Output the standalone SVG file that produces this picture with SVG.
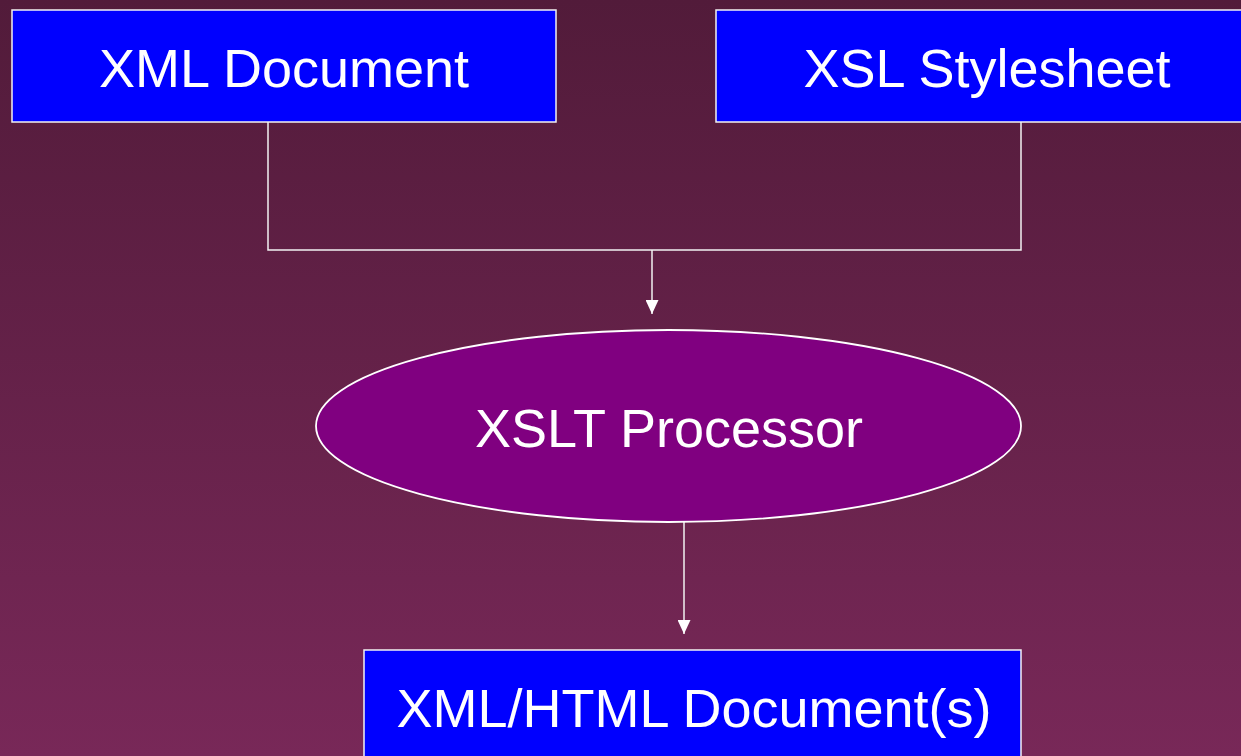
<svg xmlns="http://www.w3.org/2000/svg" width="1241" height="756" viewBox="0 0 1241 756">
  <defs>
    <linearGradient id="bg" x1="0" y1="0" x2="0" y2="1">
      <stop offset="0" stop-color="#521b3a"/>
      <stop offset="1" stop-color="#782858"/>
    </linearGradient>
    <marker id="arrow" viewBox="0 0 14 13" refX="14" refY="6.5" markerWidth="14" markerHeight="13" markerUnits="userSpaceOnUse" orient="auto">
      <path d="M0,0 L14,6.5 L0,13 Z" fill="#ffffff"/>
    </marker>
  </defs>
  <style>
    .box { fill: #0000ff; stroke: #f2f2f2; stroke-width: 1.5; }
    .ell { fill: #800080; stroke: #ffffff; stroke-width: 1.8; }
    .lbl { font-family: "Liberation Sans", Arial, sans-serif; font-size: 54px; fill: #ffffff; text-anchor: middle; }
    .conn { fill: none; stroke: #f2f2f2; stroke-width: 1.5; }
  </style>
  <rect x="0" y="0" width="1241" height="756" fill="url(#bg)"/>
  <g id="connectors">
    <polyline class="conn" points="268,122 268,250 1021,250 1021,122"/>
    <line class="conn" x1="652" y1="250" x2="652" y2="314" marker-end="url(#arrow)"/>
    <line class="conn" x1="684" y1="522" x2="684" y2="634" marker-end="url(#arrow)"/>
  </g>
  <g id="xml-document">
    <rect class="box" x="12" y="10" width="544" height="112"/>
    <text class="lbl" x="284" y="87">XML Document</text>
  </g>
  <g id="xsl-stylesheet">
    <rect class="box" x="716" y="10" width="542" height="112"/>
    <text class="lbl" x="987" y="87">XSL Stylesheet</text>
  </g>
  <g id="xslt-processor">
    <ellipse class="ell" cx="668.5" cy="426" rx="352.5" ry="96"/>
    <text class="lbl" x="669" y="447">XSLT Processor</text>
  </g>
  <g id="output-document">
    <rect class="box" x="364" y="650" width="657" height="120"/>
    <text class="lbl" x="694" y="727">XML/HTML Document(s)</text>
  </g>
</svg>
